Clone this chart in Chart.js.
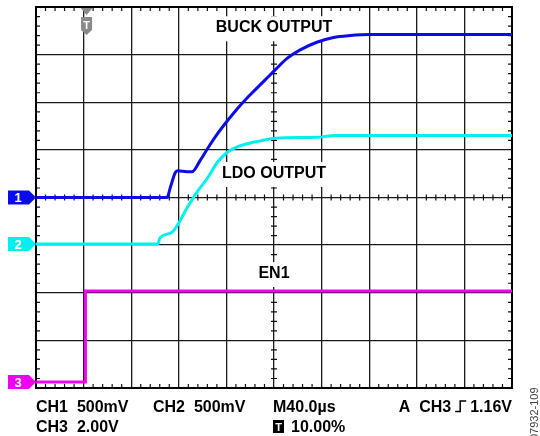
<!DOCTYPE html>
<html>
<head>
<meta charset="utf-8">
<script src="https://cdn.jsdelivr.net/npm/chart.js@4.4.1/dist/chart.umd.min.js"></script>
<style>
html, body { margin: 0; padding: 0; background: #fff; }
canvas { display: block; }
</style>
</head>
<body>
<canvas id="scope" width="540" height="436"></canvas>
<script>
// time base: 40us/div, trigger at 10% of screen
const timeMin = -40;
const timeMax = 360;

// CH1 - buck output, volts (500mV/div)
const buckTime  = [-40, 70, 73, 77, 79, 87, 91, 98, 104.5, 112, 120.5, 129, 137, 145, 153, 161, 171, 182, 196, 210, 224, 241, 360];
const buckVolts = [0, 0, 0.11, 0.26, 0.28, 0.27, 0.27, 0.39, 0.52, 0.66, 0.80, 0.93, 1.04, 1.14, 1.24, 1.34, 1.46, 1.55, 1.63, 1.68, 1.70, 1.71, 1.71];

// CH2 - LDO output, volts (500mV/div)
const ldoTime  = [-40, 62.5, 64, 74, 79, 87, 95, 104, 112, 120.5, 129, 140, 148, 161, 196, 212, 360];
const ldoVolts = [0, 0, 0.06, 0.12, 0.20, 0.38, 0.54, 0.69, 0.85, 0.96, 1.02, 1.06, 1.08, 1.11, 1.12, 1.14, 1.14];

// CH3 - EN1, volts (2.00V/div)
const enTime  = [-40, 1.5, 1.5, 360];
const enVolts = [0, 0, 3.82, 3.82];

const triggerTime = 2.5;

// scope channel setup: volts per div and ground marker position (div from centre)
const channels = [
    { id: "1", time: buckTime, volts: buckVolts, vdiv: 0.5, offset: 0, color: "#0c0ce6", tag: "#0a0aee" },
    { id: "2", time: ldoTime, volts: ldoVolts, vdiv: 0.5, offset: -0.976, color: "#00f0f0", tag: "#00f0f0" },
    { id: "3", time: enTime, volts: enVolts, vdiv: 2.0, offset: -3.874, color: "#f000f0", tag: "#f000f0" }
];

const traceLabels = [
    { text: "BUCK OUTPUT", t: 160, div: 3.47 },
    { text: "LDO OUTPUT", t: 160, div: 0.41 },
    { text: "EN1", t: 160, div: -1.69 }
];

const FONT = '"Liberation Sans", Arial, Helvetica, sans-serif';

const datasets = channels.map(ch => ({
    label: "CH" + ch.id,
    data: ch.time.map((t, i) => ({ x: t, y: ch.volts[i] / ch.vdiv + ch.offset })),
    borderColor: ch.color,
    borderWidth: 3,
    pointRadius: 0,
    cubicInterpolationMode: ch.id === "3" ? "default" : "monotone",
    tension: 0,
    fill: false
}));

const scopeDecor = {
    id: "scopeDecor",
    beforeDatasetsDraw(chart) {
        const { ctx, chartArea: a, scales: { x, y } } = chart;
        ctx.save();
        ctx.strokeStyle = "#111";
        ctx.lineWidth = 1.2;
        const cx = x.getPixelForValue((timeMin + timeMax) / 2);
        const cy = y.getPixelForValue(0);
        ctx.beginPath();
        // minor ticks, 5 per division
        for (let d = 0.2; d < 10; d += 0.2) {
            if (Math.abs(d - Math.round(d)) < 0.01) continue;
            const px = a.left + (a.right - a.left) * d / 10;
            ctx.moveTo(px, a.top); ctx.lineTo(px, a.top + 4);
            ctx.moveTo(px, a.bottom); ctx.lineTo(px, a.bottom - 4);
            ctx.moveTo(px, cy - 3); ctx.lineTo(px, cy + 3);
        }
        for (let d = 0.2; d < 8; d += 0.2) {
            if (Math.abs(d - Math.round(d)) < 0.01) continue;
            const py = a.top + (a.bottom - a.top) * d / 8;
            ctx.moveTo(a.left, py); ctx.lineTo(a.left + 4, py);
            ctx.moveTo(a.right, py); ctx.lineTo(a.right - 4, py);
            ctx.moveTo(cx - 3, py); ctx.lineTo(cx + 3, py);
        }
        ctx.stroke();

        // outer frame
        ctx.lineWidth = 2;
        ctx.strokeStyle = "#000";
        ctx.strokeRect(a.left, a.top, a.right - a.left, a.bottom - a.top);

        // trace names on white boxes
        ctx.font = "bold 16px " + FONT;
        ctx.textAlign = "center";
        ctx.textBaseline = "alphabetic";
        traceLabels.forEach(l => {
            const px = x.getPixelForValue(l.t);
            const py = y.getPixelForValue(l.div);
            const w = ctx.measureText(l.text).width;
            ctx.fillStyle = "#fff";
            ctx.fillRect(px - w / 2 - 5, py - 16, w + 10, 25);
            ctx.fillStyle = "#000";
            ctx.fillText(l.text, px, py);
        });
        ctx.restore();
    },
    afterDraw(chart) {
        const { ctx, chartArea: a, scales: { x, y } } = chart;
        ctx.save();

        // channel ground markers
        channels.forEach(ch => {
            const py = y.getPixelForValue(ch.offset);
            ctx.fillStyle = ch.tag;
            ctx.beginPath();
            ctx.moveTo(8, py - 7);
            ctx.lineTo(29, py - 7);
            ctx.lineTo(36, py);
            ctx.lineTo(29, py + 7);
            ctx.lineTo(8, py + 7);
            ctx.closePath();
            ctx.fill();
            ctx.fillStyle = "#fff";
            ctx.font = "bold 13px " + FONT;
            ctx.textAlign = "center";
            ctx.textBaseline = "middle";
            ctx.fillText(ch.id, 18, py + 1);
        });

        // trigger position marker
        const tx = x.getPixelForValue(triggerTime);
        ctx.fillStyle = "#8a8a8a";
        ctx.beginPath();
        ctx.moveTo(tx - 6, a.top + 1);
        ctx.lineTo(tx + 6, a.top + 1);
        ctx.lineTo(tx, a.top + 8);
        ctx.closePath();
        ctx.fill();
        ctx.beginPath();
        ctx.moveTo(tx - 5.5, a.top + 10);
        ctx.lineTo(tx + 5.5, a.top + 10);
        ctx.lineTo(tx + 5.5, a.top + 23);
        ctx.lineTo(tx, a.top + 28);
        ctx.lineTo(tx - 5.5, a.top + 23);
        ctx.closePath();
        ctx.fill();
        ctx.fillStyle = "#fff";
        ctx.font = "bold 11px " + FONT;
        ctx.textAlign = "center";
        ctx.textBaseline = "alphabetic";
        ctx.fillText("T", tx, a.top + 22);

        // readout lines
        ctx.fillStyle = "#000";
        ctx.font = "bold 16px " + FONT;
        ctx.textAlign = "left";
        const r1 = a.bottom + 24, r2 = a.bottom + 44;
        ctx.fillText("CH1  500mV", 36, r1);
        ctx.fillText("CH2  500mV", 153, r1);
        ctx.fillText("M40.0\u00b5s", 273, r1);
        ctx.fillText("CH3  2.00V", 36, r2);
        ctx.fillText("10.00%", 291, r2);

        ctx.textAlign = "right";
        ctx.fillText("1.16V", 512, r1);
        const vx = 512 - ctx.measureText("1.16V").width - 4;
        ctx.strokeStyle = "#000";
        ctx.lineWidth = 1.5;
        ctx.beginPath();
        ctx.moveTo(vx - 11, r1 - 0.5);
        ctx.lineTo(vx - 6, r1 - 0.5);
        ctx.lineTo(vx - 6, r1 - 11);
        ctx.lineTo(vx, r1 - 11);
        ctx.stroke();
        ctx.fillText("A  CH3", vx - 15, r1);

        // trigger-position icon
        ctx.fillStyle = "#000";
        ctx.fillRect(273, r2 - 12, 11, 13);
        ctx.fillStyle = "#fff";
        ctx.font = "bold 11px " + FONT;
        ctx.textAlign = "center";
        ctx.fillText("T", 278.5, r2 - 1);

        // figure id
        ctx.translate(538, 440);
        ctx.rotate(-Math.PI / 2);
        ctx.fillStyle = "#444";
        ctx.font = "11px " + FONT;
        ctx.textAlign = "left";
        ctx.fillText("07932-109", 0, 0);
        ctx.restore();
    }
};

new Chart(document.getElementById("scope"), {
    type: "line",
    data: { datasets },
    options: {
        responsive: false,
        animation: false,
        devicePixelRatio: 1,
        layout: { padding: { left: 36, top: 7, right: 28, bottom: 48 } },
        plugins: { legend: { display: false }, tooltip: { enabled: false } },
        scales: {
            x: {
                type: "linear",
                min: timeMin,
                max: timeMax,
                ticks: { display: false, stepSize: 40 },
                grid: { color: "#1a1a1a", lineWidth: 1.3, drawTicks: false },
                border: { display: false }
            },
            y: {
                type: "linear",
                min: -4,
                max: 4,
                ticks: { display: false, stepSize: 1 },
                grid: { color: "#1a1a1a", lineWidth: 1.3, drawTicks: false },
                border: { display: false }
            }
        }
    },
    plugins: [scopeDecor]
});
</script>
</body>
</html>
